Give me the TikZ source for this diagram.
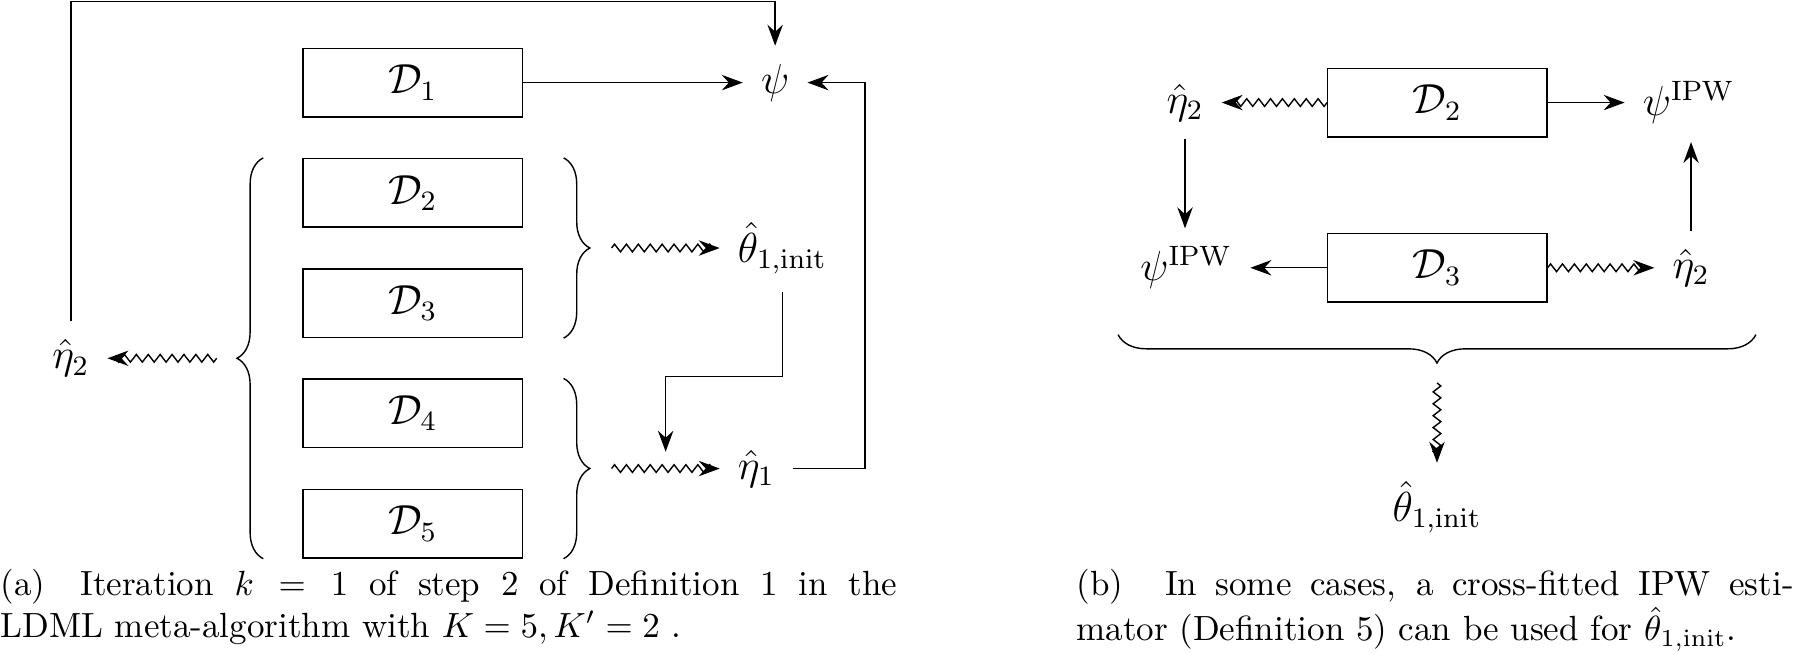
\documentclass[tikz,border=0pt]{standalone}
\usepackage{amsmath}
\usepackage{amssymb}
\usetikzlibrary{arrows.meta,positioning,calc,decorations.pathmorphing,decorations.pathreplacing}

\begin{document}
\begin{tikzpicture}[
        x=1pt, y=1pt,
        node distance=11.5pt,
        fold/.style={
            draw=black,
            line width=0.4pt,
            minimum width=62.6pt,
            minimum height=19.6pt,
            inner sep=0pt,
            font=\large
        },
        est/.style={
            inner sep=5pt,
            font=\large
        },
        flow/.style={
            -{Stealth[length=6pt,width=4.4pt,inset=2pt]},
            line width=0.4pt
        },
        wavy/.style={
            flow,
            decorate,
            decoration={zigzag, segment length=3.4pt, amplitude=1.1pt, post=lineto, post length=2pt}
        },
        grp/.style={
            decorate,
            decoration={brace, amplitude=7.5pt},
            line width=0.4pt
        },
        capt/.style={
            inner sep=0pt,
            align=justify,
            font=\normalsize
        }
    ]
    \useasboundingbox (0,0) rectangle (512.2,-187.1);
    \coordinate (roof) at (0,-0.4);

    % (a) folds, braces and estimates
    \node[fold] (d1) at (117.9,-23.6) {$\mathcal{D}_1$};
    \node[fold, below=of d1] (d2) {$\mathcal{D}_2$};
    \node[fold, below=of d2] (d3) {$\mathcal{D}_3$};
    \node[fold, below=of d3] (d4) {$\mathcal{D}_4$};
    \node[fold, below=of d4] (d5) {$\mathcal{D}_5$};

    \draw[grp] ([xshift=-11.2pt]d5.south west) -- ([xshift=-11.2pt]d2.north west) coordinate[midway, xshift=-7.5pt] (allt);
    \draw[grp] ([xshift=11.6pt]d2.north east) -- ([xshift=11.6pt]d3.south east) coordinate[midway, xshift=7.5pt] (fstt);
    \draw[grp] ([xshift=11.6pt]d4.north east) -- ([xshift=11.6pt]d5.south east) coordinate[midway, xshift=7.5pt] (scnd);

    \node[est, right=62.8pt of d1] (psi) {$\psi$};
    \node[est, left=37pt of allt] (eh2) {$\hat{\eta}_2$};
    \node[est, right=37.1pt of fstt] (th1) {$\hat{\theta}_{1,\mathrm{init}}$};
    \node[est, right=37.1pt of scnd] (eh1) {$\hat{\eta}_1$};
    \coordinate (hit) at ($([xshift=6.2pt]scnd)!0.5!(eh1.west)+(0,4.8)$);

    \draw[flow] (d1) -- (psi);
    \draw[wavy] ([xshift=-5.8pt]allt) -- (eh2);
    \draw[wavy] ([xshift=6.2pt]fstt) -- (th1);
    \draw[wavy] ([xshift=6.2pt]scnd) -- (eh1);
    \draw[flow] (eh2.north) -- (eh2.north |- roof) -| (psi.north);
    \draw[flow] (th1.south) -- ++(0,-24) -| (hit);
    \draw[flow] (eh1.east) -- ++(20.6,0) |- (psi.east);

    % (b) cross-fitted IPW
    \node[fold] (b2) at (410.6,-29.3) {$\mathcal{D}_2$};
    \node[fold, below=27.2pt of b2] (b3) {$\mathcal{D}_3$};
    \node[est, left=30.1pt of b2] (eh2a) {$\hat{\eta}_2$};
    \node[est, right=22pt of b2] (psib) {$\psi^{\mathrm{IPW}}$};
    \node[est, left=21.9pt of b3] (psia) {$\psi^{\mathrm{IPW}}$};
    \node[est, right=30.5pt of b3] (eh2b) {$\hat{\eta}_2$};

    \draw[wavy] (b2) -- (eh2a);
    \draw[flow] (b2) -- (psib);
    \draw[flow] (b3) -- (psia);
    \draw[wavy] (b3) -- (eh2b);
    \draw[flow] (eh2a.south) -- (eh2a.south |- psia.north);
    \draw[flow] (eh2b.north) -- (eh2b.north |- psib.south);

    \draw[grp, decoration={amplitude=8.1pt}] ([shift={(91pt,-9.1pt)}]b3.south) -- ([shift={(-91.2pt,-9.1pt)}]b3.south) coordinate[midway, yshift=-8.1pt] (pool);
    \node[est, below=28.5pt of pool] (th1b) {$\hat{\theta}_{1,\mathrm{init}}$};
    \draw[wavy] ([yshift=-5.7pt]pool) -- (th1b);

    % captions
    \node[capt, text width=256.1pt, anchor=north west] (capa) at (0,-162.3)
        {(a)\quad Iteration $k=1$ of step 2 of Definition 1 in the\linebreak LDML meta-algorithm with $K=5, K'=2$ .};
    \node[capt, text width=204.9pt, anchor=north west] (capb) at (307.3,-162.3)
        {(b)\hspace{12pt}In some cases, a cross-fitted IPW esti-\linebreak mator (Definition 5) can be used for $\hat{\theta}_{1,\mathrm{init}}$.};
\end{tikzpicture}
\end{document}
